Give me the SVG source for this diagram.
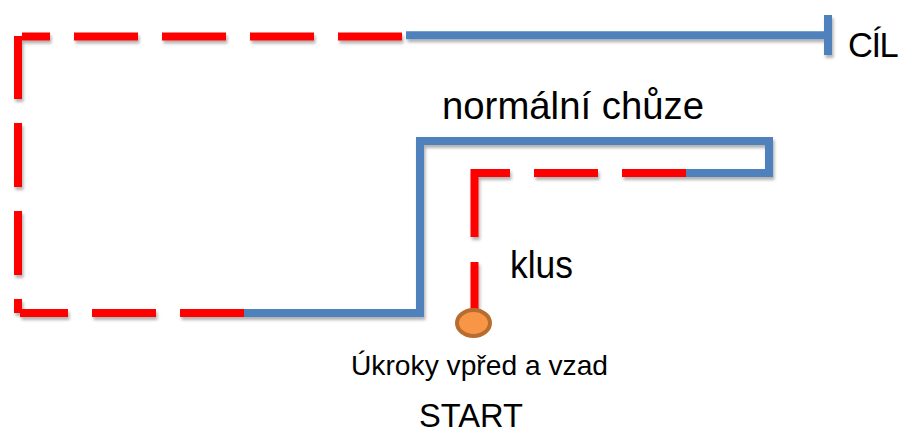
<svg xmlns="http://www.w3.org/2000/svg" width="903" height="434" viewBox="0 0 903 434">
  <defs>
    <filter id="shadow" x="-10%" y="-10%" width="120%" height="130%">
      <feDropShadow dx="1.5" dy="3" stdDeviation="1.8" flood-color="#000" flood-opacity="0.3"/>
    </filter>
  </defs>
  <style>
    .trot { stroke: #ff0000; stroke-width: 8; fill: none; stroke-linecap: butt; }
    .walk { stroke: #4f81bd; stroke-width: 8; fill: none; stroke-linecap: butt; stroke-linejoin: miter; }
    .lbl { font-family: "Liberation Sans", Arial, sans-serif; fill: #000; }
  </style>
  <rect width="903" height="434" fill="#ffffff"/>

  <g id="connectors" filter="url(#shadow)">
    <!-- outer route: trot (dashed red) -->
    <g id="outer-trot">
      <line class="trot" x1="338" y1="36.5" x2="402" y2="36.5"/>
      <line class="trot" x1="250" y1="36.5" x2="314" y2="36.5"/>
      <line class="trot" x1="162" y1="36.5" x2="226" y2="36.5"/>
      <line class="trot" x1="74" y1="36.5" x2="138" y2="36.5"/>
      <line class="trot" x1="22" y1="36.5" x2="50" y2="36.5"/>
      <line class="trot" x1="18" y1="36" x2="18" y2="99"/>
      <line class="trot" x1="18" y1="123" x2="18" y2="187"/>
      <line class="trot" x1="18" y1="211" x2="18" y2="275"/>
      <line class="trot" x1="18" y1="299" x2="18" y2="313"/>
      <line class="trot" x1="20" y1="313" x2="68" y2="313"/>
      <line class="trot" x1="92" y1="313" x2="156" y2="313"/>
      <line class="trot" x1="180" y1="313" x2="244" y2="313"/>
    </g>
    <!-- walking sections (solid blue) -->
    <path id="walk-loop" class="walk" d="M244,313 H420 V141 H769 V173 H686"/>
    <path id="walk-finish" class="walk" d="M406,35.3 H826"/>
    <line id="finish-bar" class="walk" x1="828" y1="15" x2="828" y2="55"/>
    <!-- inner route: trot (dashed red) -->
    <g id="inner-trot">
      <line class="trot" x1="622" y1="173" x2="686" y2="173"/>
      <line class="trot" x1="534" y1="173" x2="598" y2="173"/>
      <path class="trot" d="M510,173 H474.5 V237"/>
      <line class="trot" x1="474.5" y1="262" x2="474.5" y2="312"/>
    </g>
  </g>

  <g id="start-point">
    <ellipse cx="473.5" cy="323" rx="16.5" ry="13" fill="#f79646" stroke="#b86d2e" stroke-width="4"/>
  </g>

  <g id="labels">
    <text id="label-goal" class="lbl" x="848" y="57" font-size="34.5" letter-spacing="-1.5">CÍL</text>
    <text id="label-walk" class="lbl" x="442" y="119" font-size="38.5" textLength="262" lengthAdjust="spacingAndGlyphs">normální chůze</text>
    <text id="label-trot" class="lbl" x="510" y="278" font-size="38" textLength="63" lengthAdjust="spacingAndGlyphs">klus</text>
    <text id="label-steps" class="lbl" x="351" y="375" font-size="28.5" textLength="257" lengthAdjust="spacingAndGlyphs">Úkroky vpřed a vzad</text>
    <text id="label-start" class="lbl" x="419" y="427" font-size="34" textLength="104" lengthAdjust="spacingAndGlyphs">START</text>
  </g>
</svg>
